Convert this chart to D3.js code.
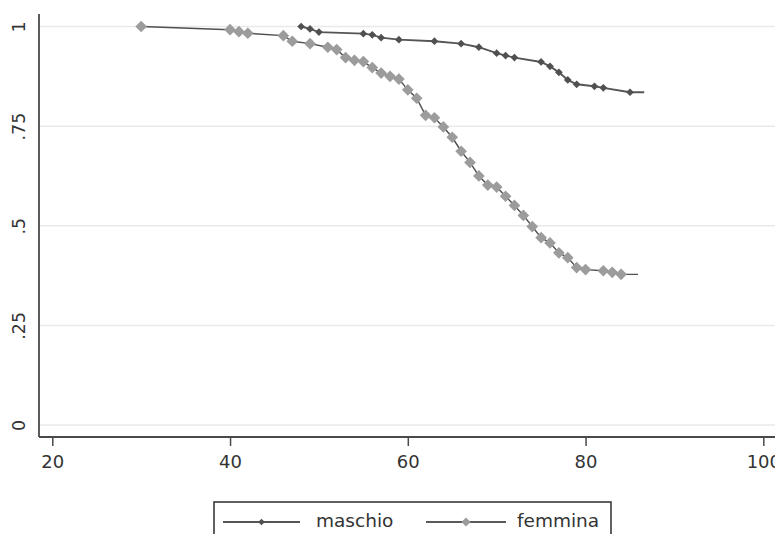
<!DOCTYPE html>
<html>
<head>
<meta charset="utf-8">
<script src="https://cdn.jsdelivr.net/npm/d3@7"></script>
<style>
  html, body { margin: 0; padding: 0; background: #fff; }
  svg { display: block; }
  text { font-family: "DejaVu Sans", sans-serif; fill: #333; }
</style>
</head>
<body>
<svg id="chart" width="775" height="534"></svg>
<script>
// Survival estimates by age (Kaplan-Meier style), two groups
const maleAges   = [48, 49, 50, 55, 56, 57, 59, 63, 66, 68, 70, 71, 72, 75, 76, 77, 78, 79, 81, 82, 85];
const maleSurv   = [1.0, 0.994, 0.986, 0.982, 0.979, 0.972, 0.967, 0.963, 0.957, 0.948, 0.933, 0.927, 0.922, 0.911, 0.900, 0.885, 0.866, 0.855, 0.850, 0.846, 0.835];
const maleEnd    = [86.6, 0.835];

const femaleAges = [30, 40, 41, 42, 46, 47, 49, 51, 52, 53, 54, 55, 56, 57, 58, 59, 60, 61, 62, 63, 64, 65, 66, 67, 68, 69, 70, 71, 72, 73, 74, 75, 76, 77, 78, 79, 80, 82, 83, 84];
const femaleSurv = [1.0, 0.992, 0.987, 0.983, 0.977, 0.963, 0.957, 0.948, 0.942, 0.922, 0.915, 0.912, 0.897, 0.883, 0.875, 0.868, 0.841, 0.820, 0.777, 0.771, 0.748, 0.722, 0.687, 0.659, 0.625, 0.602, 0.597, 0.574, 0.551, 0.526, 0.498, 0.470, 0.457, 0.432, 0.420, 0.395, 0.390, 0.387, 0.383, 0.378];
const femaleEnd  = [85.9, 0.378];

const xTicks = [20, 40, 60, 80, 100];
const yTicks = [0, 0.25, 0.5, 0.75, 1];
const yTickLabels = ["0", ".25", ".5", ".75", "1"];
const seriesNames = ["maschio", "femmina"];

const svg = d3.select("#chart");

const x = d3.scaleLinear().domain([20, 100]).range([52.3, 763.3]);
const y = d3.scaleLinear().domain([0, 1]).range([425, 26.5]);

const axisX0 = 39, axisY0 = 437, plotTop = 14, plotRight = 790;

// horizontal grid
svg.append("g").selectAll("line").data(yTicks).join("line")
  .attr("x1", axisX0 + 1).attr("x2", plotRight)
  .attr("y1", d => y(d)).attr("y2", d => y(d))
  .attr("stroke", "#e9e9e9").attr("stroke-width", 1.5);

// y axis (labels rotated, no tick marks)
const gy = svg.append("g").attr("transform", `translate(${axisX0},0)`)
  .call(d3.axisLeft(y).tickValues(yTicks).tickSize(0).tickPadding(0)
    .tickFormat((d, i) => yTickLabels[i]));
gy.select(".domain").remove();
gy.selectAll("text")
  .attr("transform", "translate(-14,0) rotate(-90)")
  .attr("x", 0).attr("y", 0).attr("dy", 0)
  .attr("text-anchor", "middle")
  .style("font-size", "17.5px").style("font-family", "DejaVu Sans, sans-serif").attr("fill", "#333");
svg.append("line")
  .attr("x1", axisX0).attr("x2", axisX0).attr("y1", plotTop).attr("y2", axisY0)
  .attr("stroke", "#4a4a4a").attr("stroke-width", 1.8);

// x axis
const gx = svg.append("g").attr("transform", `translate(0,${axisY0})`)
  .call(d3.axisBottom(x).tickValues(xTicks).tickSize(9).tickPadding(9).tickFormat(d3.format("d")));
gx.select(".domain").remove();
gx.selectAll(".tick line").attr("stroke", "#4a4a4a").attr("stroke-width", 1.5);
gx.selectAll("text").style("font-size", "18px").style("font-family", "DejaVu Sans, sans-serif").attr("fill", "#333");
svg.append("line")
  .attr("x1", axisX0).attr("x2", plotRight).attr("y1", axisY0).attr("y2", axisY0)
  .attr("stroke", "#4a4a4a").attr("stroke-width", 1.8);

const line = d3.line().x(d => x(d[0])).y(d => y(d[1]));
// diamond = square turned 45 degrees
const diamond = (size) => d3.symbol().type(d3.symbolSquare).size(size)();

function drawSeries(ages, surv, end, lineColor, markColor, markSize, lineWidth) {
  const pts = ages.map((a, i) => [a, surv[i]]);
  const g = svg.append("g");
  g.append("path").datum(pts.concat([end]))
    .attr("d", line).attr("fill", "none")
    .attr("stroke", lineColor).attr("stroke-width", lineWidth);
  g.selectAll("path.mark").data(pts).join("path")
    .attr("class", "mark")
    .attr("transform", d => `translate(${x(d[0])},${y(d[1])}) rotate(45)`)
    .attr("d", diamond(markSize))
    .attr("fill", markColor);
}

drawSeries(femaleAges, femaleSurv, femaleEnd, "#4f4f4f", "#9c9c9c", 68, 1.4);
drawSeries(maleAges, maleSurv, maleEnd, "#555555", "#505050", 30, 1.9);

// legend
const lg = svg.append("g");
lg.append("rect").attr("x", 214).attr("y", 502).attr("width", 397).attr("height", 60)
  .attr("fill", "#fff").attr("stroke", "#3a3a3a").attr("stroke-width", 1.6);
const legendItems = [
  { name: seriesNames[0], x0: 223, x1: 300, color: "#555", mark: "#505050", size: 22, tx: 316 },
  { name: seriesNames[1], x0: 426, x1: 506, color: "#5a5a5a", mark: "#9c9c9c", size: 42, tx: 517 }
];
legendItems.forEach(it => {
  lg.append("line").attr("x1", it.x0).attr("x2", it.x1).attr("y1", 522).attr("y2", 522)
    .attr("stroke", it.color).attr("stroke-width", 1.8);
  lg.append("path").attr("transform", `translate(${(it.x0 + it.x1) / 2},522) rotate(45)`)
    .attr("d", diamond(it.size)).attr("fill", it.mark);
  lg.append("text").attr("x", it.tx).attr("y", 527)
    .style("font-size", "18.5px").text(it.name);
});
</script>
</body>
</html>
